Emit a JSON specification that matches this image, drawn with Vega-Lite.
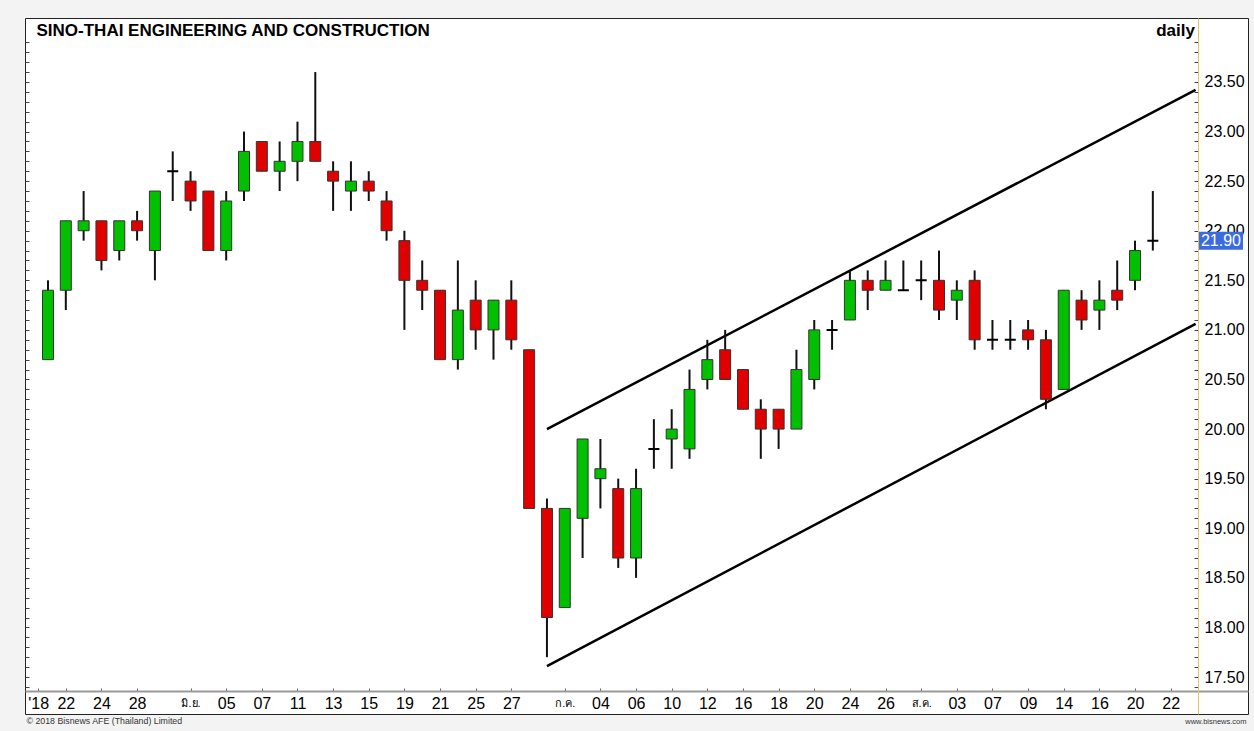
{
  "$schema": "https://vega.github.io/schema/vega-lite/v6.json",
  "width": 1223,
  "height": 696,
  "autosize": {"type": "none"},
  "padding": {"left": 25, "top": 18, "right": 6, "bottom": 17},
  "background": "#f3f3f3",
  "view": {"fill": "#ffffff", "stroke": "#222222", "strokeWidth": 1},
  "config": {"font": "Liberation Sans", "axis": {"grid": false, "labelFont": "Liberation Sans, DejaVu Sans, Noto Sans, sans-serif", "titleFont": "Liberation Sans"}},
  "datasets": {
    "ohlc": [
      {"i": 0, "o": 20.7, "h": 21.5, "l": 20.7, "c": 21.4},
      {"i": 1, "o": 21.4, "h": 22.1, "l": 21.2, "c": 22.1},
      {"i": 2, "o": 22.0, "h": 22.4, "l": 21.9, "c": 22.1},
      {"i": 3, "o": 22.1, "h": 22.1, "l": 21.6, "c": 21.7},
      {"i": 4, "o": 21.8, "h": 22.1, "l": 21.7, "c": 22.1},
      {"i": 5, "o": 22.1, "h": 22.2, "l": 21.9, "c": 22.0},
      {"i": 6, "o": 21.8, "h": 22.4, "l": 21.5, "c": 22.4},
      {"i": 7, "o": 22.6, "h": 22.8, "l": 22.3, "c": 22.6},
      {"i": 8, "o": 22.5, "h": 22.6, "l": 22.2, "c": 22.3},
      {"i": 9, "o": 22.4, "h": 22.4, "l": 21.8, "c": 21.8},
      {"i": 10, "o": 21.8, "h": 22.4, "l": 21.7, "c": 22.3},
      {"i": 11, "o": 22.4, "h": 23.0, "l": 22.3, "c": 22.8},
      {"i": 12, "o": 22.9, "h": 22.9, "l": 22.6, "c": 22.6},
      {"i": 13, "o": 22.6, "h": 22.9, "l": 22.4, "c": 22.7},
      {"i": 14, "o": 22.7, "h": 23.1, "l": 22.5, "c": 22.9},
      {"i": 15, "o": 22.9, "h": 23.6, "l": 22.7, "c": 22.7},
      {"i": 16, "o": 22.6, "h": 22.7, "l": 22.2, "c": 22.5},
      {"i": 17, "o": 22.4, "h": 22.7, "l": 22.2, "c": 22.5},
      {"i": 18, "o": 22.5, "h": 22.6, "l": 22.3, "c": 22.4},
      {"i": 19, "o": 22.3, "h": 22.4, "l": 21.9, "c": 22.0},
      {"i": 20, "o": 21.9, "h": 22.0, "l": 21.0, "c": 21.5},
      {"i": 21, "o": 21.5, "h": 21.7, "l": 21.2, "c": 21.4},
      {"i": 22, "o": 21.4, "h": 21.4, "l": 20.7, "c": 20.7},
      {"i": 23, "o": 20.7, "h": 21.7, "l": 20.6, "c": 21.2},
      {"i": 24, "o": 21.3, "h": 21.5, "l": 20.8, "c": 21.0},
      {"i": 25, "o": 21.0, "h": 21.3, "l": 20.7, "c": 21.3},
      {"i": 26, "o": 21.3, "h": 21.5, "l": 20.8, "c": 20.9},
      {"i": 27, "o": 20.8, "h": 20.8, "l": 19.2, "c": 19.2},
      {"i": 28, "o": 19.2, "h": 19.3, "l": 17.7, "c": 18.1},
      {"i": 29, "o": 18.2, "h": 19.2, "l": 18.2, "c": 19.2},
      {"i": 30, "o": 19.1, "h": 19.9, "l": 18.7, "c": 19.9},
      {"i": 31, "o": 19.5, "h": 19.9, "l": 19.2, "c": 19.6},
      {"i": 32, "o": 19.4, "h": 19.5, "l": 18.6, "c": 18.7},
      {"i": 33, "o": 18.7, "h": 19.6, "l": 18.5, "c": 19.4},
      {"i": 34, "o": 19.8, "h": 20.1, "l": 19.6, "c": 19.8},
      {"i": 35, "o": 19.9, "h": 20.2, "l": 19.6, "c": 20.0},
      {"i": 36, "o": 19.8, "h": 20.6, "l": 19.7, "c": 20.4},
      {"i": 37, "o": 20.5, "h": 20.9, "l": 20.4, "c": 20.7},
      {"i": 38, "o": 20.8, "h": 21.0, "l": 20.5, "c": 20.5},
      {"i": 39, "o": 20.6, "h": 20.6, "l": 20.2, "c": 20.2},
      {"i": 40, "o": 20.2, "h": 20.3, "l": 19.7, "c": 20.0},
      {"i": 41, "o": 20.2, "h": 20.2, "l": 19.8, "c": 20.0},
      {"i": 42, "o": 20.0, "h": 20.8, "l": 20.0, "c": 20.6},
      {"i": 43, "o": 20.5, "h": 21.1, "l": 20.4, "c": 21.0},
      {"i": 44, "o": 21.0, "h": 21.1, "l": 20.8, "c": 21.0},
      {"i": 45, "o": 21.1, "h": 21.6, "l": 21.1, "c": 21.5},
      {"i": 46, "o": 21.5, "h": 21.6, "l": 21.2, "c": 21.4},
      {"i": 47, "o": 21.4, "h": 21.7, "l": 21.4, "c": 21.5},
      {"i": 48, "o": 21.4, "h": 21.7, "l": 21.4, "c": 21.4},
      {"i": 49, "o": 21.5, "h": 21.7, "l": 21.3, "c": 21.5},
      {"i": 50, "o": 21.5, "h": 21.8, "l": 21.1, "c": 21.2},
      {"i": 51, "o": 21.3, "h": 21.5, "l": 21.1, "c": 21.4},
      {"i": 52, "o": 21.5, "h": 21.6, "l": 20.8, "c": 20.9},
      {"i": 53, "o": 20.9, "h": 21.1, "l": 20.8, "c": 20.9},
      {"i": 54, "o": 20.9, "h": 21.1, "l": 20.8, "c": 20.9},
      {"i": 55, "o": 21.0, "h": 21.1, "l": 20.8, "c": 20.9},
      {"i": 56, "o": 20.9, "h": 21.0, "l": 20.2, "c": 20.3},
      {"i": 57, "o": 20.4, "h": 21.4, "l": 20.4, "c": 21.4},
      {"i": 58, "o": 21.3, "h": 21.4, "l": 21.0, "c": 21.1},
      {"i": 59, "o": 21.2, "h": 21.5, "l": 21.0, "c": 21.3},
      {"i": 60, "o": 21.4, "h": 21.7, "l": 21.2, "c": 21.3},
      {"i": 61, "o": 21.5, "h": 21.9, "l": 21.4, "c": 21.8},
      {"i": 62, "o": 21.9, "h": 22.4, "l": 21.8, "c": 21.9}
    ],
    "trend": [
      {"g": "upper", "i": 28, "p": 20.0},
      {"g": "upper", "i": 64.4, "p": 23.42},
      {"g": "lower", "i": 28, "p": 17.61},
      {"g": "lower", "i": 64.4, "p": 21.06}
    ]
  },
  "resolve": {"axis": {"x": "independent", "y": "independent"}},
  "layer": [
    {
      "data": {"name": "trend"},
      "mark": {"type": "line", "color": "#000000", "strokeWidth": 2.5, "clip": true},
      "encoding": {
        "x": {
          "field": "i", "type": "quantitative",
          "scale": {"domain": [-1.29, 67.34], "nice": false, "zero": false, "padding": 0},
          "axis": {"orient": "top", "labels": false, "ticks": false, "domain": false,
            "title": "www.bisnews.com", "titleX": 1221, "titleY": 703, "titleAlign": "right", "titleBaseline": "middle",
            "titleFontSize": 7.5, "titleFontWeight": "normal", "titleColor": "#333333"}
        },
        "y": {
          "field": "p", "type": "quantitative",
          "scale": {"domain": [17.127, 24.145], "nice": false, "zero": false, "padding": 0},
          "axis": {"orient": "left", "labels": false, "domain": false, "tickSize": -4, "tickColor": "#444444",
            "values": [17.4,17.5,17.6,17.7,17.8,17.9,18.0,18.1,18.2,18.3,18.4,18.5,18.6,18.7,18.8,18.9,19.0,19.1,19.2,19.3,19.4,19.5,19.6,19.7,19.8,19.9,20.0,20.1,20.2,20.3,20.4,20.5,20.6,20.7,20.8,20.9,21.0,21.1,21.2,21.3,21.4,21.5,21.6,21.7,21.8,21.9,22.0,22.1,22.2,22.3,22.4,22.5,22.6,22.7,22.8,22.9,23.0,23.1,23.2,23.3,23.4,23.5,23.6,23.7,23.8,23.9],
            "title": "SINO-THAI ENGINEERING AND CONSTRUCTION", "titleAngle": 0, "titleX": 11, "titleY": 12,
            "titleAlign": "left", "titleBaseline": "middle", "titleFontSize": 17, "titleFontWeight": "bold", "titleColor": "#000000"}
        },
        "detail": {"field": "g"}
      }
    },
    {
      "data": {"name": "ohlc"},
      "mark": {"type": "rule", "color": "#111111", "strokeWidth": 2},
      "encoding": {
        "x": {
          "field": "i", "type": "quantitative",
          "axis": {"orient": "bottom", "offset": -23,
            "values": [-0.55,1,3,5,8,10,12,14,16,18,20,22,24,26,29,31,33,35,37,39,41,43,45,47,49,51,53,55,57,59,61,63],
            "labelExpr": "[\"'18\",'22','24','28','มิ.ย.','05','07','11','13','15','19','21','25','27','ก.ค.','04','06','10','12','16','18','20','24','26','ส.ค.','03','07','09','14','16','20','22'][indexof([-0.55,1,3,5,8,10,12,14,16,18,20,22,24,26,29,31,33,35,37,39,41,43,45,47,49,51,53,55,57,59,61,63], datum.value)]",
            "tickSize": -3, "tickColor": "#666666", "domainColor": "#999999", "domainWidth": 2,
            "labelFontSize": {"condition": {"test": "datum.value == 8 || datum.value == 29 || datum.value == 49", "value": 11}, "value": 16},
            "labelColor": "#000000", "labelPadding": 15, "labelBaseline": "middle", "labelFlush": false, "labelOverlap": false,
            "title": "© 2018 Bisnews AFE (Thailand) Limited", "titleX": 1, "titleY": 29, "titleAlign": "left", "titleBaseline": "middle",
            "titleFontSize": 8.8, "titleFontWeight": "normal", "titleColor": "#333333"}
        },
        "y": {
          "field": "l", "type": "quantitative",
          "axis": {"orient": "right", "offset": -50,
            "values": [17.4,17.5,17.6,17.7,17.8,17.9,18.0,18.1,18.2,18.3,18.4,18.5,18.6,18.7,18.8,18.9,19.0,19.1,19.2,19.3,19.4,19.5,19.6,19.7,19.8,19.9,20.0,20.1,20.2,20.3,20.4,20.5,20.6,20.7,20.8,20.9,21.0,21.1,21.2,21.3,21.4,21.5,21.6,21.7,21.8,21.9,22.0,22.1,22.2,22.3,22.4,22.5,22.6,22.7,22.8,22.9,23.0,23.1,23.2,23.3,23.4,23.5,23.6,23.7,23.8,23.9],
            "labelExpr": "abs(datum.value * 2 - round(datum.value * 2)) < 0.001 ? format(datum.value, '.2f') : ''",
            "tickSize": -4, "tickColor": "#444444", "domainColor": "#e6c35c",
            "labelFontSize": 16, "labelColor": "#000000", "labelPadding": 10, "labelAlign": "left", "labelBaseline": "middle",
            "labelFlush": false, "labelOverlap": false,
            "title": "daily", "titleAngle": 0, "titleX": -23, "titleY": 12, "titleAlign": "center", "titleBaseline": "middle",
            "titleFontSize": 17, "titleFontWeight": "bold", "titleColor": "#000000"}
        },
        "y2": {"field": "h"}
      }
    },
    {
      "data": {"name": "ohlc"},
      "mark": {"type": "bar", "width": 11},
      "encoding": {
        "x": {"field": "i", "type": "quantitative", "axis": null},
        "y": {"field": "o", "type": "quantitative", "axis": null},
        "y2": {"field": "c"},
        "color": {"condition": {"test": "datum.c > datum.o", "value": "#00c000"}, "value": "#e00000"},
        "stroke": {"condition": {"test": "datum.c == datum.o", "value": "#000000"}, "value": "#333333"},
        "strokeWidth": {"condition": {"test": "datum.c == datum.o", "value": 2}, "value": 1}
      }
    },
    {
      "data": {"name": "ohlc"},
      "transform": [{"filter": "datum.i == 62"}],
      "mark": {"type": "bar", "orient": "horizontal", "height": 18, "color": "#3a6be0"},
      "encoding": {
        "x": {"datum": 64.59, "type": "quantitative", "axis": null},
        "x2": {"datum": 67.06},
        "y": {"field": "c", "type": "quantitative", "axis": null}
      }
    },
    {
      "data": {"name": "ohlc"},
      "transform": [{"filter": "datum.i == 62"}],
      "mark": {"type": "text", "align": "left", "baseline": "middle", "fontSize": 16, "color": "#ffffff", "font": "Liberation Sans"},
      "encoding": {
        "x": {"datum": 64.7, "type": "quantitative", "axis": null},
        "y": {"field": "c", "type": "quantitative", "axis": null},
        "text": {"field": "c", "format": ".2f"}
      }
    }
  ]
}
